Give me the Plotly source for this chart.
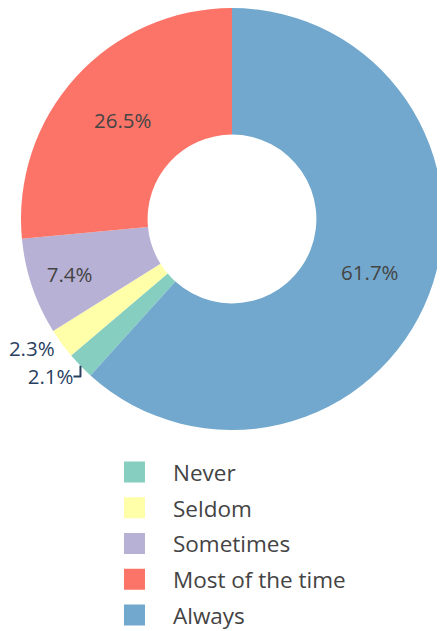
import plotly.graph_objects as go

categories = ['Never', 'Seldom', 'Sometimes', 'Most of the time', 'Always']
values = [2.1, 2.3, 7.4, 26.5, 61.7]
colors = ['#86cfc0', '#ffffa9', '#b7b1d5', '#fc7468', '#72a8cd']

fig = go.Figure()

# the donut, starting so that "Always" begins at 12 o'clock
fig.add_trace(go.Pie(
    labels=categories,
    values=values,
    hole=0.4,
    sort=False,
    direction='clockwise',
    rotation=360 * values[-1] / sum(values),
    marker=dict(colors=colors),
    textinfo='percent',
    textfont=dict(size=20.5),
    showlegend=False,
    domain=dict(x=[0.0292, 0.9775], y=[0.3406, 1.0]),
))

# legend entries with bigger square swatches
for name, c in zip(categories, colors):
    fig.add_trace(go.Scatter(
        x=[None], y=[None],
        mode='markers',
        name=name,
        legendgroup=name,
        marker=dict(symbol='square', size=16, color=c, line=dict(width=5, color=c)),
    ))

fig.update_layout(
    width=445,
    height=640,
    margin=dict(l=0, r=0, t=0, b=0, autoexpand=False),
    paper_bgcolor='white',
    plot_bgcolor='white',
    xaxis=dict(visible=False),
    yaxis=dict(visible=False),
    legend=dict(
        x=0.1977, y=0.308, xanchor='left', yanchor='top',
        font=dict(size=22.5, color='#444'),
        itemwidth=67,
        tracegroupgap=3.5,
    ),
)

fig.write_html("out.html")
